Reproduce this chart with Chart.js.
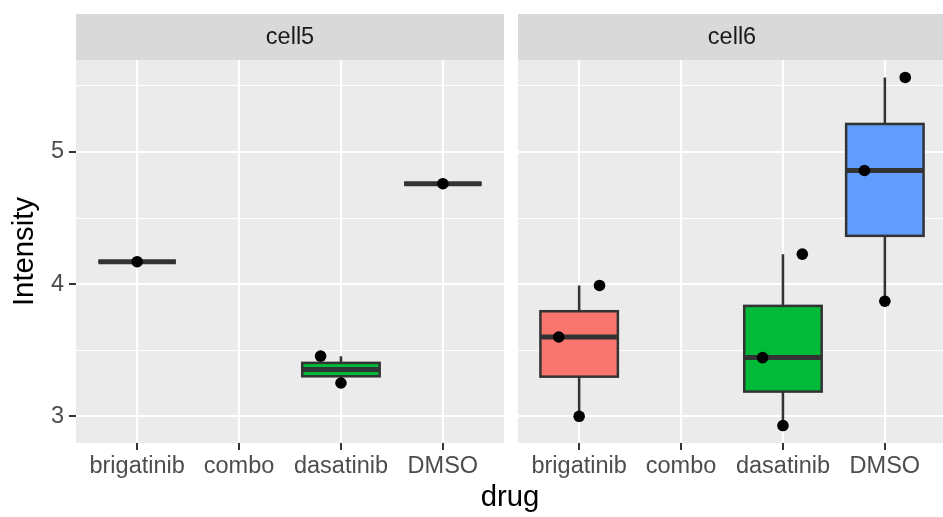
<!DOCTYPE html>
<html>
<head>
<meta charset="utf-8">
<script src="https://cdn.jsdelivr.net/npm/chart.js@4"></script>
<style>
  html, body { margin: 0; padding: 0; background: #fff; overflow: hidden; }
  body { width: 943px; height: 517px; position: relative; font-family: 'Liberation Sans', Arial, sans-serif; }
  canvas { position: absolute; top: 0; }
  #left { left: 0; }
  #right { left: 518px; }
  #xtitle { position: absolute; left: 76px; width: 868px; top: 480.5px; text-align: center;
            font-size: 29.3px; line-height: 29.3px; color: #000; }
</style>
</head>
<body>
<canvas id="left" width="504" height="517"></canvas>
<canvas id="right" width="428" height="517"></canvas>
<div id="xtitle">drug</div>
<script>
// --- data ---
const drugs = ['brigatinib', 'combo', 'dasatinib', 'DMSO'];
const yTicks = [3, 3.5, 4, 4.5, 5, 5.5];
const yMin = 2.798, yMax = 5.696;

// cell5 observations
const cell5Drug   = [0, 2, 2, 3];
const cell5Value  = [4.17, 3.455, 3.252, 4.76];
const cell5Jitter = [0, -0.2, 0, 0];

// cell6 observations
const cell6Drug   = [0, 0, 0, 2, 2, 2, 3, 3, 3];
const cell6Value  = [3.00, 3.60, 3.99, 2.93, 3.444, 4.227, 3.871, 4.86, 5.564];
const cell6Jitter = [0, -0.2, 0.2, 0, -0.2, 0.19, 0, -0.2, 0.2];

// --- styles ---
const drugFill = ['#F8766D', null, '#00BA38', '#619CFF'];
const FONT = '"Liberation Sans", Arial, sans-serif';
const INK = '#333333';
const boxHalf = 0.38;

Chart.defaults.font.family = FONT;
Chart.defaults.animation = false;

function quantile(sorted, p) {
    const h = (sorted.length - 1) * p;
    const lo = Math.floor(h), hi = Math.ceil(h);
    return sorted[lo] + (sorted[hi] - sorted[lo]) * (h - lo);
}

// boxplot stats per drug (ggplot style, type 7 quantiles)
function boxStats(drugIdx, values) {
    const out = [];
    drugs.forEach((d, i) => {
        const v = values.filter((_, k) => drugIdx[k] === i).sort((a, b) => a - b);
        if (!v.length) return;
        const q1 = quantile(v, 0.25), med = quantile(v, 0.5), q3 = quantile(v, 0.75);
        const iqr = q3 - q1;
        const inside = v.filter(x => x >= q1 - 1.5 * iqr && x <= q3 + 1.5 * iqr);
        out.push({ drug: i, q1, med, q3, lo: inside[0], hi: inside[inside.length - 1] });
    });
    return out;
}

function makePanelPlugin(title, boxes) {
    return {
        id: 'panel',
        beforeDraw(chart) {
            const { ctx, chartArea: a } = chart;
            ctx.save();
            ctx.fillStyle = '#EBEBEB';
            ctx.fillRect(a.left, a.top, a.right - a.left, a.bottom - a.top);
            ctx.fillStyle = '#D9D9D9';
            ctx.fillRect(a.left, 14, a.right - a.left, a.top - 14);
            ctx.fillStyle = '#1A1A1A';
            ctx.font = '23.5px ' + FONT;
            ctx.textAlign = 'center';
            ctx.textBaseline = 'middle';
            ctx.fillText(title, (a.left + a.right) / 2, 37.7);
            ctx.restore();
        },
        beforeDatasetsDraw(chart) {
            const { ctx } = chart;
            const xs = chart.scales.x, ys = chart.scales.y;
            ctx.save();
            ctx.strokeStyle = INK;
            ctx.lineCap = 'butt';
            boxes.forEach(b => {
                const xc = xs.getPixelForValue(b.drug);
                const xl = xs.getPixelForValue(b.drug - boxHalf);
                const xr = xs.getPixelForValue(b.drug + boxHalf);
                const yq1 = ys.getPixelForValue(b.q1), yq3 = ys.getPixelForValue(b.q3);
                // whiskers
                ctx.lineWidth = 2.5;
                ctx.beginPath();
                ctx.moveTo(xc, ys.getPixelForValue(b.hi)); ctx.lineTo(xc, yq3);
                ctx.moveTo(xc, yq1); ctx.lineTo(xc, ys.getPixelForValue(b.lo));
                ctx.stroke();
                // box
                ctx.fillStyle = drugFill[b.drug];
                ctx.fillRect(xl, yq3, xr - xl, yq1 - yq3);
                ctx.strokeRect(xl, yq3, xr - xl, yq1 - yq3);
                // median
                const ym = ys.getPixelForValue(b.med);
                ctx.lineWidth = 5;
                ctx.beginPath();
                ctx.moveTo(xl, ym); ctx.lineTo(xr, ym);
                ctx.stroke();
            });
            ctx.restore();
        }
    };
}

function makePanel(canvasId, title, drugIdx, values, jitter, showY) {
    const points = values.map((v, i) => ({ x: drugIdx[i] + jitter[i], y: v }));
    const ctx = document.getElementById(canvasId).getContext('2d');

    new Chart(ctx, {
        type: 'scatter',
        data: {
            datasets: [{
                data: points,
                pointRadius: 5.8,
                pointHoverRadius: 5.8,
                pointBackgroundColor: '#000000',
                pointBorderWidth: 0
            }]
        },
        options: {
            responsive: false,
            devicePixelRatio: 1,
            layout: { autoPadding: false, padding: { top: 60, left: 0, right: 0, bottom: 0 } },
            plugins: { legend: { display: false }, tooltip: { enabled: false } },
            scales: {
                x: {
                    type: 'linear',
                    min: -0.6,
                    max: 3.6,
                    afterBuildTicks: s => { s.ticks = drugs.map((_, i) => ({ value: i })); },
                    afterFit: s => { s.height = 74; },
                    ticks: {
                        callback: v => drugs[v],
                        color: '#4D4D4D',
                        font: { size: 23.5 },
                        padding: 2,
                        maxRotation: 0,
                        autoSkip: false
                    },
                    grid: { color: '#FFFFFF', lineWidth: 2, tickColor: INK, tickLength: 7, tickWidth: 2 },
                    border: { display: false }
                },
                y: {
                    min: yMin,
                    max: yMax,
                    afterBuildTicks: s => { s.ticks = yTicks.map(v => ({ value: v })); },
                    afterFit: s => { s.width = showY ? 76 : 0; },
                    title: {
                        display: showY,
                        text: 'Intensity',
                        color: '#000000',
                        font: { size: 29.3 },
                        padding: { top: 7, bottom: 0 }
                    },
                    ticks: {
                        display: showY,
                        callback: v => (Number.isInteger(v) ? String(v) : ''),
                        color: '#4D4D4D',
                        font: { size: 23.5 },
                        padding: 5
                    },
                    grid: {
                        color: '#FFFFFF',
                        lineWidth: c => (Number.isInteger(c.tick.value) ? 2 : 1),
                        drawTicks: showY,
                        tickColor: c => (Number.isInteger(c.tick.value) ? INK : 'rgba(0,0,0,0)'),
                        tickLength: 7,
                        tickWidth: 2
                    },
                    border: { display: false }
                }
            }
        },
        plugins: [makePanelPlugin(title, boxStats(drugIdx, values))]
    });
}

makePanel('left', 'cell5', cell5Drug, cell5Value, cell5Jitter, true);
makePanel('right', 'cell6', cell6Drug, cell6Value, cell6Jitter, false);
</script>
</body>
</html>
